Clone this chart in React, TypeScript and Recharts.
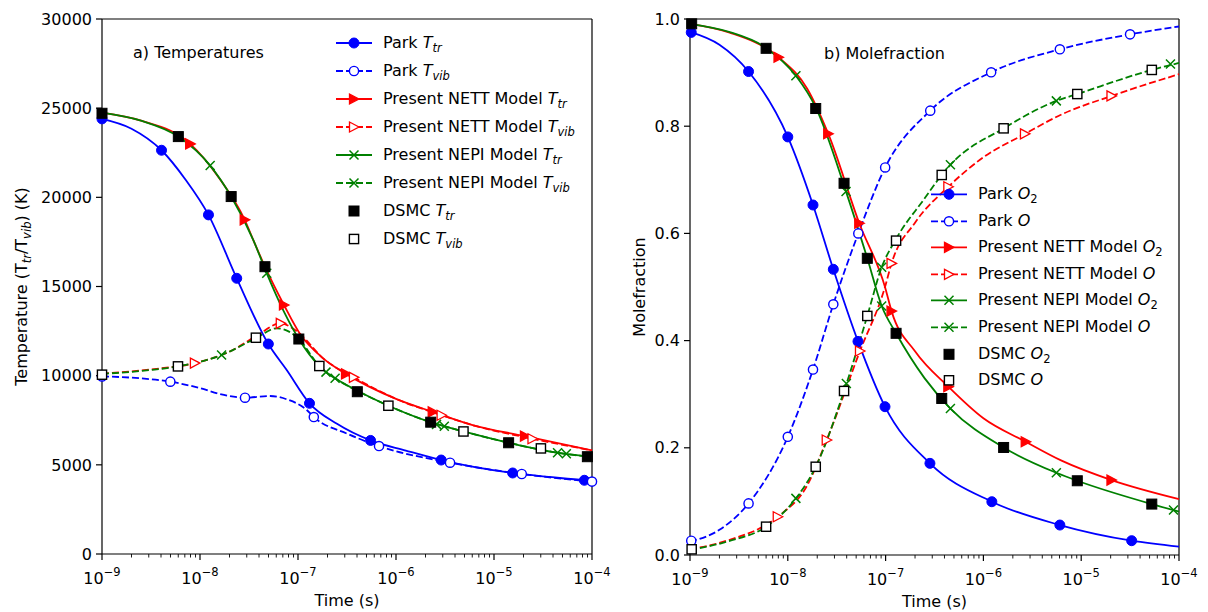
import React from "react";
import { ComposedChart, Line, Scatter, XAxis, YAxis, ReferenceLine } from "recharts";

type Pt = [number, number];
type MarkerKind = "dot" | "ring" | "tri" | "triOpen" | "cross" | "square" | "squareOpen";

const FONT = "'DejaVu Sans', Verdana, sans-serif";
const BLUE = "#0000ff";
const RED = "#ff0000";
const GREEN = "#008000";
const DASH = "7 3";

// axis ticks
const decades = [1e-9, 1e-8, 1e-7, 1e-6, 1e-5, 1e-4];
const timeTicks = decades.flatMap((d, i) =>
  i === decades.length - 1 ? [d] : [1, 2, 3, 4, 5, 6, 7, 8, 9].map((k) => k * d)
);
const tempTicks = [0, 5000, 10000, 15000, 20000, 25000, 30000];
const fracTicks = [0, 0.2, 0.4, 0.6, 0.8, 1.0];

// ---- a) temperatures, [time (s), K]
const parkTtrCurve: Pt[] = [[1e-9, 24400], [2e-9, 23850], [4.05e-9, 22640], [7.1e-9, 21000], [1.22e-8, 19016], [2.37e-8, 15460], [4.98e-8, 11775], [7.67e-8, 10317], [1.31e-7, 8450], [2.5e-7, 7300], [5.5e-7, 6368], [1.26e-6, 5800], [2.89e-6, 5269], [1.55e-5, 4543], [8.36e-5, 4134], [1e-4, 4090]];
const parkTtrMarks: Pt[] = [[1e-9, 24400], [4.05e-9, 22640], [1.22e-8, 19016], [2.37e-8, 15460], [4.98e-8, 11775], [1.31e-7, 8450], [5.5e-7, 6368], [2.89e-6, 5269], [1.55e-5, 4543], [8.36e-5, 4134]];
const parkTvibCurve: Pt[] = [[1e-9, 9960], [2.5e-9, 9850], [4.98e-9, 9664], [1e-8, 9300], [1.6e-8, 8970], [2.88e-8, 8765], [5.18e-8, 8860], [7.67e-8, 8674], [1.23e-7, 8074], [1.45e-7, 7680], [3.16e-7, 6750], [6.71e-7, 6052], [3.56e-6, 5121], [1.92e-5, 4487], [1e-4, 4060]];
const parkTvibMarks: Pt[] = [[1e-9, 9960], [4.98e-9, 9664], [2.88e-8, 8765], [1.45e-7, 7680], [6.71e-7, 6052], [3.56e-6, 5121], [1.92e-5, 4487], [1e-4, 4060]];
const nettTtrCurve: Pt[] = [[1e-9, 24750], [2.5e-9, 24300], [7.94e-9, 22995], [1.58e-8, 21050], [2.86e-8, 18736], [3.5e-8, 17606], [4.6e-8, 16110], [7.19e-8, 13961], [1.05e-7, 12335], [1.78e-7, 11000], [3.09e-7, 10100], [1e-6, 8700], [2.37e-6, 7969], [6.3e-6, 7200], [2.07e-5, 6610], [1e-4, 5809]];
const nettTtrMarks: Pt[] = [[7.94e-9, 22995], [2.86e-8, 18736], [7.19e-8, 13961], [3.09e-7, 10100], [2.37e-6, 7969], [2.07e-5, 6610]];
const nettTvibCurve: Pt[] = [[1e-9, 10110], [3.16e-9, 10350], [8.87e-9, 10707], [2e-8, 11350], [3.72e-8, 12200], [6.67e-8, 12935], [8.3e-8, 12750], [1.05e-7, 12335], [1.78e-7, 11000], [3.72e-7, 9907], [1e-6, 8700], [2.92e-6, 7783], [6.3e-6, 7200], [2.47e-5, 6461], [1e-4, 5809]];
const nettTvibMarks: Pt[] = [[8.87e-9, 10707], [6.67e-8, 12935], [3.72e-7, 9907], [2.92e-6, 7783], [2.47e-5, 6461]];
const nepiTtrCurve: Pt[] = [[1e-9, 24750], [2.5e-9, 24300], [6.01e-9, 23406], [1.27e-8, 21781], [2.08e-8, 20044], [3.5e-8, 17606], [4.8e-8, 15739], [7.1e-8, 13650], [1.02e-7, 12055], [1.65e-7, 10541], [1.93e-7, 10200], [2.39e-7, 9850], [4.03e-7, 9150], [8.36e-7, 8315], [2.26e-6, 7392], [4.88e-6, 6871], [1.41e-5, 6238], [4.45e-5, 5679], [1e-4, 5440]];
const nepiTtrMarks: Pt[] = [[1.27e-8, 21781], [4.8e-8, 15739], [1.93e-7, 10200], [2.59e-6, 7270], [4.45e-5, 5679]];
const nepiTvibCurve: Pt[] = [[1e-9, 10100], [3.16e-9, 10320], [5.96e-9, 10520], [1.66e-8, 11158], [3.72e-8, 12100], [6.07e-8, 12655], [7.9e-8, 12500], [1.02e-7, 12055], [1.65e-7, 10541], [2.39e-7, 9850], [4.03e-7, 9150], [8.36e-7, 8315], [2.26e-6, 7392], [4.88e-6, 6871], [1.41e-5, 6238], [4.45e-5, 5679], [1e-4, 5440]];
const nepiTvibMarks: Pt[] = [[1.66e-8, 11158], [2.39e-7, 9850], [3.11e-6, 7160], [5.47e-5, 5620]];
const dsmcTtr: Pt[] = [[1e-9, 24713], [6.01e-9, 23406], [2.08e-8, 20044], [4.6e-8, 16110], [1.02e-7, 12055], [4.03e-7, 9100], [2.26e-6, 7392], [1.41e-5, 6238], [8.97e-5, 5456]];
const dsmcTvib: Pt[] = [[1e-9, 10055], [5.96e-9, 10520], [3.72e-8, 12128], [1.65e-7, 10541], [8.36e-7, 8315], [4.88e-6, 6871], [3.01e-5, 5921]];

// ---- b) mole fractions, [time (s), fraction]
const parkO2Curve: Pt[] = [[1e-9, 0.976], [2e-9, 0.952], [3.97e-9, 0.902], [1e-8, 0.78], [1.81e-8, 0.653], [2.92e-8, 0.533], [5.22e-8, 0.3985], [9.86e-8, 0.2767], [2.84e-7, 0.171], [1.22e-6, 0.0994], [6.05e-6, 0.0559], [3.28e-5, 0.0267], [1e-4, 0.0155]];
const parkO2Marks: Pt[] = [[1.03e-9, 0.975], [3.97e-9, 0.902], [1e-8, 0.78], [1.81e-8, 0.653], [2.92e-8, 0.533], [5.22e-8, 0.3985], [9.86e-8, 0.2767], [2.84e-7, 0.171], [1.22e-6, 0.0994], [6.05e-6, 0.0559], [3.28e-5, 0.0267]];
const parkOCurve: Pt[] = [[1e-9, 0.025], [2e-9, 0.047], [3.97e-9, 0.0963], [1e-8, 0.2205], [1.81e-8, 0.346], [2.92e-8, 0.4677], [5.26e-8, 0.6], [9.9e-8, 0.723], [2.86e-7, 0.829], [1.2e-6, 0.9006], [6.05e-6, 0.9435], [3.16e-5, 0.9714], [1e-4, 0.986]];
const parkOMarks: Pt[] = [[1.03e-9, 0.0267], [3.97e-9, 0.0963], [1e-8, 0.2205], [1.81e-8, 0.346], [2.92e-8, 0.4677], [5.26e-8, 0.6], [9.9e-8, 0.723], [2.86e-7, 0.829], [1.2e-6, 0.9006], [6.05e-6, 0.9435], [3.16e-5, 0.9714]];
const nettO2Curve: Pt[] = [[1e-9, 0.991], [2.5e-9, 0.975], [8.04e-9, 0.9286], [1.58e-8, 0.87], [2.59e-8, 0.786], [5.38e-8, 0.619], [9.86e-8, 0.5], [1.15e-7, 0.455], [2e-7, 0.38], [4.38e-7, 0.314], [1e-6, 0.255], [2.71e-6, 0.2112], [6.3e-6, 0.176], [2.04e-5, 0.1398], [1e-4, 0.1043]];
const nettO2Marks: Pt[] = [[8.04e-9, 0.9286], [2.59e-8, 0.786], [5.38e-8, 0.619], [1.15e-7, 0.455], [4.38e-7, 0.314], [2.71e-6, 0.2112], [2.04e-5, 0.1398]];
const nettOCurve: Pt[] = [[1e-9, 0.0106], [2.5e-9, 0.028], [7.89e-9, 0.0714], [1.58e-8, 0.13], [2.5e-8, 0.2146], [5.47e-8, 0.3806], [9.86e-8, 0.5], [1.15e-7, 0.544], [2e-7, 0.62], [4.38e-7, 0.687], [1e-6, 0.742], [2.66e-6, 0.7857], [6.3e-6, 0.822], [2.04e-5, 0.8565], [1e-4, 0.897]];
const nettOMarks: Pt[] = [[7.89e-9, 0.0714], [2.5e-8, 0.2146], [5.47e-8, 0.3806], [1.15e-7, 0.544], [4.38e-7, 0.687], [2.66e-6, 0.7857], [2.04e-5, 0.8565]];
const nepiO2Curve: Pt[] = [[1e-9, 0.991], [2.5e-9, 0.976], [6e-9, 0.946], [1.21e-8, 0.894], [1.93e-8, 0.835], [3.94e-8, 0.678], [6.5e-8, 0.5535], [9.12e-8, 0.4646], [1.28e-7, 0.4136], [2.5e-7, 0.33], [4.6e-7, 0.2733], [1.61e-6, 0.2006], [5.57e-6, 0.1534], [9.12e-6, 0.1385], [5.27e-5, 0.095], [1e-4, 0.081]];
const nepiO2Marks: Pt[] = [[1.21e-8, 0.894], [3.94e-8, 0.678], [9.12e-8, 0.4646], [4.6e-7, 0.2733], [5.57e-6, 0.1534], [8.79e-5, 0.0839]];
const nepiOCurve: Pt[] = [[1e-9, 0.0095], [2.5e-9, 0.026], [6e-9, 0.0528], [1.21e-8, 0.1056], [1.93e-8, 0.1646], [3.76e-8, 0.306], [6.5e-8, 0.446], [9.12e-8, 0.537], [1.25e-7, 0.5865], [2.5e-7, 0.665], [3.75e-7, 0.709], [4.6e-7, 0.728], [1.61e-6, 0.796], [5.57e-6, 0.8472], [9.12e-6, 0.86], [5.27e-5, 0.905], [1e-4, 0.918]];
const nepiOMarks: Pt[] = [[1.21e-8, 0.1056], [3.97e-8, 0.32], [9.12e-8, 0.537], [4.6e-7, 0.728], [5.57e-6, 0.8472], [8.18e-5, 0.9161]];
const dsmcO2: Pt[] = [[1.04e-9, 0.991], [6e-9, 0.9453], [1.93e-8, 0.833], [3.76e-8, 0.6935], [6.5e-8, 0.5535], [1.28e-7, 0.4136], [3.75e-7, 0.292], [1.61e-6, 0.2006], [9.12e-6, 0.1385], [5.27e-5, 0.095]];
const dsmcO: Pt[] = [[1.04e-9, 0.0106], [6e-9, 0.0528], [1.93e-8, 0.1646], [3.76e-8, 0.306], [6.5e-8, 0.446], [1.28e-7, 0.5865], [3.75e-7, 0.709], [1.61e-6, 0.796], [9.12e-6, 0.86], [5.27e-5, 0.905]];

const rows = (pts: Pt[]) => pts.map(([t, v]) => ({ t, v }));

type Series = {
  name: string;
  curve?: Pt[];
  marks: Pt[];
  color: string;
  dashed?: boolean;
  marker: MarkerKind;
  label: React.ReactNode;
};

const subStyle: React.CSSProperties = { fontSize: 11.5, fontStyle: "italic", verticalAlign: "-4px", lineHeight: 0 };
const T = (sub: string) => (<><i>T</i><sub style={subStyle}>{sub}</sub></>);
const O2 = (<><i>O</i><sub style={{ ...subStyle, fontStyle: "normal" }}>2</sub></>);
const O = <i>O</i>;

const tempSeries: Series[] = [
  { name: "parkTtr", curve: parkTtrCurve, marks: parkTtrMarks, color: BLUE, marker: "dot", label: <>Park {T("tr")}</> },
  { name: "parkTvib", curve: parkTvibCurve, marks: parkTvibMarks, color: BLUE, dashed: true, marker: "ring", label: <>Park {T("vib")}</> },
  { name: "nettTtr", curve: nettTtrCurve, marks: nettTtrMarks, color: RED, marker: "tri", label: <>Present NETT Model {T("tr")}</> },
  { name: "nettTvib", curve: nettTvibCurve, marks: nettTvibMarks, color: RED, dashed: true, marker: "triOpen", label: <>Present NETT Model {T("vib")}</> },
  { name: "nepiTtr", curve: nepiTtrCurve, marks: nepiTtrMarks, color: GREEN, marker: "cross", label: <>Present NEPI Model {T("tr")}</> },
  { name: "nepiTvib", curve: nepiTvibCurve, marks: nepiTvibMarks, color: GREEN, dashed: true, marker: "cross", label: <>Present NEPI Model {T("vib")}</> },
  { name: "dsmcTtr", marks: dsmcTtr, color: "#000", marker: "square", label: <>DSMC {T("tr")}</> },
  { name: "dsmcTvib", marks: dsmcTvib, color: "#000", marker: "squareOpen", label: <>DSMC {T("vib")}</> },
];

const fracSeries: Series[] = [
  { name: "parkO2", curve: parkO2Curve, marks: parkO2Marks, color: BLUE, marker: "dot", label: <>Park {O2}</> },
  { name: "parkO", curve: parkOCurve, marks: parkOMarks, color: BLUE, dashed: true, marker: "ring", label: <>Park {O}</> },
  { name: "nettO2", curve: nettO2Curve, marks: nettO2Marks, color: RED, marker: "tri", label: <>Present NETT Model {O2}</> },
  { name: "nettO", curve: nettOCurve, marks: nettOMarks, color: RED, dashed: true, marker: "triOpen", label: <>Present NETT Model {O}</> },
  { name: "nepiO2", curve: nepiO2Curve, marks: nepiO2Marks, color: GREEN, marker: "cross", label: <>Present NEPI Model {O2}</> },
  { name: "nepiO", curve: nepiOCurve, marks: nepiOMarks, color: GREEN, dashed: true, marker: "cross", label: <>Present NEPI Model {O}</> },
  { name: "dsmcO2", marks: dsmcO2, color: "#000", marker: "square", label: <>DSMC {O2}</> },
  { name: "dsmcO", marks: dsmcO, color: "#000", marker: "squareOpen", label: <>DSMC {O}</> },
];

const Marker = ({ kind, color, cx, cy }: { kind: MarkerKind; color: string; cx: number; cy: number }) => {
  if (cx == null || cy == null) return null;
  switch (kind) {
    case "dot":
      return <circle cx={cx} cy={cy} r={5} fill={color} stroke={color} strokeWidth={1} />;
    case "ring":
      return <circle cx={cx} cy={cy} r={4.6} fill="#fff" stroke={color} strokeWidth={1.4} />;
    case "tri":
    case "triOpen":
      return (
        <polygon
          points={`${cx + 5},${cy} ${cx - 4.5},${cy - 5} ${cx - 4.5},${cy + 5}`}
          fill={kind === "tri" ? color : "#fff"}
          stroke={color}
          strokeWidth={1.3}
        />
      );
    case "cross":
      return (
        <path
          d={`M${cx - 4.5},${cy - 4.5}L${cx + 4.5},${cy + 4.5}M${cx - 4.5},${cy + 4.5}L${cx + 4.5},${cy - 4.5}`}
          stroke={color}
          strokeWidth={1.5}
        />
      );
    case "square":
      return <rect x={cx - 5} y={cy - 5} width={10} height={10} fill={color} stroke={color} />;
    default:
      return <rect x={cx - 4.6} y={cy - 4.6} width={9.2} height={9.2} fill="#fff" stroke={color} strokeWidth={1.4} />;
  }
};

const TimeTick = (props: any) => {
  const { x, y, payload } = props;
  const lg = Math.log10(payload.value);
  const e = Math.round(lg);
  const major = Math.abs(lg - e) < 1e-6;
  return (
    <g>
      <line x1={x} x2={x} y1={y} y2={y + (major ? 6 : 3.5)} stroke="#000" strokeWidth={major ? 1.2 : 0.9} />
      {major && (
        <text x={x} y={y + 30} textAnchor="middle" fontSize={16} fontFamily={FONT} fill="#000">
          10<tspan dy={-8} fontSize={11.5}>{"\u2212" + Math.abs(e)}</tspan>
        </text>
      )}
    </g>
  );
};

const TimeTitle = (props: any) => {
  const vb = props.viewBox;
  return (
    <text x={vb.x + vb.width / 2} y={vb.y + 52} textAnchor="middle" fontSize={16} fontFamily={FONT} fill="#000">
      Time (s)
    </text>
  );
};

const TempTitle = (props: any) => {
  const vb = props.viewBox;
  const cy = vb.y + vb.height / 2;
  return (
    <text transform="rotate(-90)" x={-cy} y={27} textAnchor="middle" fontSize={16} fontFamily={FONT} fill="#000">
      Temperature (T<tspan fontSize={11.5} fontStyle="italic" dy={4}>tr</tspan>
      <tspan dy={-4}>/T</tspan>
      <tspan fontSize={11.5} fontStyle="italic" dy={4}>vib</tspan>
      <tspan dy={-4}>) (K)</tspan>
    </text>
  );
};

const FracTitle = (props: any) => {
  const vb = props.viewBox;
  const cy = vb.y + vb.height / 2;
  return (
    <text transform="rotate(-90)" x={-cy} y={45} textAnchor="middle" fontSize={16} fontFamily={FONT} fill="#000">
      Molefraction
    </text>
  );
};

type PanelProps = {
  width: number;
  right: number;
  yWidth: number;
  xHeight: number;
  yMax: number;
  yTicks: number[];
  yFormat?: (v: number) => string;
  yTitle: React.ReactElement;
  series: Series[];
};

const Panel = ({ width, right, yWidth, xHeight, yMax, yTicks, yFormat, yTitle, series }: PanelProps) => (
  <ComposedChart width={width} height={612} margin={{ top: 19, right, bottom: 0, left: 0 }}>
    <XAxis
      dataKey="t"
      type="number"
      scale="log"
      domain={[1e-9, 1e-4]}
      ticks={timeTicks}
      interval={0}
      tickSize={0}
      tickMargin={0}
      tickLine={false}
      tick={<TimeTick />}
      height={xHeight}
      axisLine={{ stroke: "#000", strokeWidth: 1.2 }}
      label={<TimeTitle />}
    />
    <YAxis
      dataKey="v"
      type="number"
      domain={[0, yMax]}
      ticks={yTicks}
      interval={0}
      tickSize={6}
      tickMargin={4}
      tickFormatter={yFormat}
      width={yWidth}
      axisLine={{ stroke: "#000", strokeWidth: 1.2 }}
      tickLine={{ stroke: "#000", strokeWidth: 1.2 }}
      tick={{ fill: "#000", fontSize: 16, fontFamily: FONT }}
      label={yTitle}
    />
    <ReferenceLine y={yMax} stroke="#000" strokeWidth={1.2} />
    <ReferenceLine x={1e-4} stroke="#000" strokeWidth={1.2} />
    {series.flatMap((s) => [
      s.curve ? (
        <Line
          key={s.name + "-line"}
          data={rows(s.curve)}
          dataKey="v"
          type="monotone"
          stroke={s.color}
          strokeWidth={1.8}
          strokeDasharray={s.dashed ? DASH : undefined}
          dot={false}
          activeDot={false}
          isAnimationActive={false}
        />
      ) : null,
      <Scatter
        key={s.name + "-marks"}
        data={rows(s.marks)}
        dataKey="v"
        isAnimationActive={false}
        shape={(p: any) => <Marker kind={s.marker} color={s.color} cx={p.cx} cy={p.cy} />}
      />,
    ])}
  </ComposedChart>
);

const LegendBox = ({ series, left, top, rowH }: { series: Series[]; left: number; top: number; rowH: number }) => (
  <div style={{ position: "absolute", left, top, fontSize: 16, fontFamily: FONT, color: "#000" }}>
    {series.map((s) => (
      <div key={s.name} style={{ display: "flex", alignItems: "center", height: rowH, lineHeight: `${rowH}px`, whiteSpace: "nowrap" }}>
        <svg width={36} height={rowH} style={{ display: "block" }}>
          {s.curve && (
            <line x1={0} x2={36} y1={rowH / 2} y2={rowH / 2} stroke={s.color} strokeWidth={1.8} strokeDasharray={s.dashed ? DASH : undefined} />
          )}
          <Marker kind={s.marker} color={s.color} cx={18} cy={rowH / 2} />
        </svg>
        <span style={{ marginLeft: 11 }}>{s.label}</span>
      </div>
    ))}
  </div>
);

const Note = ({ left, cy, text }: { left: number; cy: number; text: string }) => (
  <div style={{ position: "absolute", left, top: cy - 10, height: 20, lineHeight: "20px", fontSize: 16, fontFamily: FONT, whiteSpace: "nowrap" }}>
    {text}
  </div>
);

export default function App() {
  return (
    <div style={{ position: "absolute", left: 0, top: 0, width: 1208, height: 612, background: "#fff", overflow: "hidden" }}>
      <div style={{ position: "absolute", left: 0, top: 0 }}>
        <Panel width={620} right={28} yWidth={102} xHeight={58} yMax={30000} yTicks={tempTicks} yTitle={<TempTitle />} series={tempSeries} />
      </div>
      <div style={{ position: "absolute", left: 600, top: 0 }}>
        <Panel width={608} right={29} yWidth={90} xHeight={57} yMax={1} yTicks={fracTicks} yFormat={(v) => v.toFixed(1)} yTitle={<FracTitle />} series={fracSeries} />
      </div>
      <Note left={133} cy={53} text="a) Temperatures" />
      <Note left={824} cy={54} text="b) Molefraction" />
      <LegendBox series={tempSeries} left={336} top={29} rowH={28} />
      <LegendBox series={fracSeries} left={931} top={181} rowH={26.6} />
    </div>
  );
}
